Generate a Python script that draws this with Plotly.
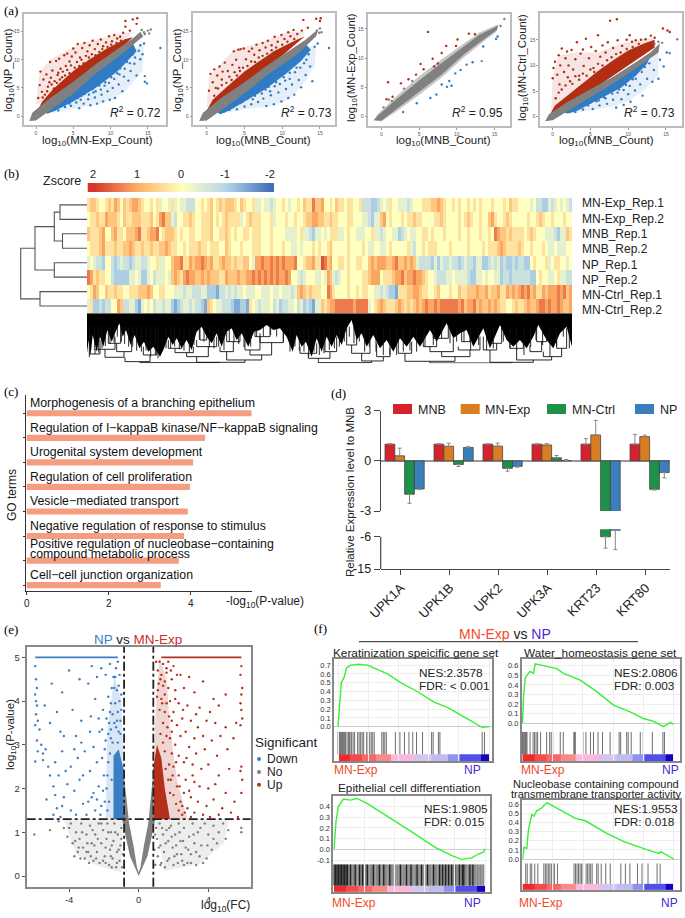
import plotly.graph_objects as go

W, H = 685, 918
SANS = "Liberation Sans"
SERIF = "Liberation Serif"

# ---------- panel (a): scatter clouds ----------
RED, BLUE, GREY = "#B22D12", "#2F7CC4", "#808080"

a1_grey_band = [(-.9,-.9),(-.5,.6),(2,3.3),(5,6.1),(8,9.2),(11,11.9),(13,13.8),(14,15),(14.4,14.2),(12,11.5),(8,7.5),(5,4),(2,1.1),(0,-.8)]
a1_red_band = [(.2,1),(.8,2.5),(2.3,4.8),(5,8),(7,9.9),(9.5,12),(12,13.7),(13,14),(11,11.5),(5,5),(.5,.5)]
a1_blue_band = [(1.5,.4),(2.5,.9),(5,2.6),(8,5),(11,8),(13.5,11.5),(13,13),(5,5),(1,1)]
a1_red_haze = [(0,2),(.5,7.9),(1.9,10),(5.9,12.9),(10.4,14.4),(13,15),(5,5)]
a1_blue_haze = [(2,.4),(5,1.3),(8,2),(10.5,3),(12,4.5),(14.3,8),(14.5,13),(5,5)]
a1_red = [(.3,3.2),(.5,5.5),(.6,7.9),(.8,4.3),(1,6.5),(1.2,3.8),(1.4,7.4),(1.6,5.2),(1.9,9.6),(2,6.8),(2.2,8.1),(2.4,4.9),(2.7,9.8),(2.9,7.3),(3.1,10.2),(3.3,8.4),(3.5,6.9),(3.8,10.8),(4,8.9),(4.2,11.1),(4.5,9.7),(4.8,10.6),(5,12),(5.3,11.3),(5.6,12.8),(5.9,10.4),(6.2,12.1),(6.5,13),(6.9,11.5),(7.2,12.6),(7.6,13.4),(7.9,11.9),(8.3,12.8),(8.7,13.6),(9,12.4),(9.4,13.1),(9.8,14.2),(10.2,13.3),(10.5,14.4),(10.9,13.8),(11.3,14.1),(11.7,14.8),(12,15.9),(12,16.9),(13,17.2),(13.6,17.4),(13.5,16.4),(12.6,15.2),(.9,3.3),(1.5,4.4),(1.8,6),(2.1,5.6),(2.5,6.2),(2.8,5.9),(3,7.7),(3.2,6.5),(3.6,7.9),(3.9,7.2),(4.2,8.2),(4.5,7.6),(4.7,9),(5.2,8.6),(5.5,9.6),(5.8,8.9),(6.1,10),(6.4,9.4),(6.7,10.7),(7.1,10.4),(7.5,11),(8,10.8),(8.5,11.4),(8.9,11.9),(9.6,12.3),(10.1,12.7),(10.8,13),(11.4,13.4)]
a1_blue = [(1.6,.8),(2.4,1.3),(3,1),(3.4,2.1),(3.9,1.6),(4.3,2.6),(4.7,1.8),(5.1,3.3),(5.4,2.4),(5.8,1.4),(6.1,3.6),(6.4,2.2),(6.7,4.4),(7,3),(7.3,1.9),(7.6,4.8),(7.9,3.3),(8.2,2.2),(8.5,5.4),(8.8,3.8),(9,2.6),(9.3,6),(9.6,4.4),(9.9,2.9),(10.1,6.9),(10.3,5),(10.6,3.2),(10.9,7.6),(11.1,5.6),(11.3,8.5),(11.6,4.4),(11.8,7),(12.2,9.6),(12.4,6.3),(12.7,8),(13,11),(13.2,9.3),(13.5,7.2),(14,12.6),(14.3,11),(14.5,12.9),(14.9,5.8),(14.6,6.1),(14.6,7.1),(16.7,12.1),(3,1.6),(3.7,2.5),(4.5,2.2),(5,2.9),(5.6,3.2),(6,2.9),(6.5,3.9),(7.1,3.8),(7.7,4.2),(8,4.4),(8.7,4.7),(9.2,5.4),(9.8,5.9),(10.5,6.6),(11.2,7.4),(11.9,8.4),(12.6,9.4),(13.3,10.4),(13.8,11.6),(14,10.1)]
a1_grey = [(14.5,14.9),(15,15.2),(15.2,14.7),(15.4,15.4),(14.2,15.3),(14.6,14.6)]

a2_grey_band = [(-1,-.9),(-.5,.6),(2,3.3),(5,6),(8,9),(11,11.7),(13,13.5),(14.8,15.5),(14.5,14.2),(12,11),(8,7.3),(5,4),(2,1.1),(0,-.8)]
a2_red_band = [(0,1),(.8,2.9),(2.5,5),(5,7.9),(7,9.8),(9,11.6),(12,13.6),(13,14.2),(5,5),(.5,.5)]
a2_blue_band = [(1.8,.3),(3,1),(5.2,2.7),(8,5),(10.5,7.5),(12.5,9.8),(13.8,11.8),(13,13),(5,5),(1,1)]
a2_red_haze = [(0,1.5),(.3,7),(1.7,9),(3.6,11.8),(7,13),(10.8,15),(13,15),(5,5)]
a2_blue_haze = [(2,.4),(5,1.2),(8,1.6),(11,3),(13,6),(14.3,9),(14.5,13),(5,5)]
a2_red = [(.3,4.5),(.5,7.5),(.8,6),(1,8.3),(1.2,5),(1.4,7.2),(1.7,8.8),(2,6.5),(2.1,7.9),(2.4,9.5),(2.8,8),(3.4,9.1),(3.6,11.5),(3.9,10),(4.2,11.8),(4.3,8.6),(4.5,11.9),(4.9,12),(5.2,10.1),(5.6,11.5),(6,12),(6.3,10.9),(6.6,12.7),(7,11.7),(7.4,13),(7.8,12.2),(8.1,13.4),(8.6,12.6),(9,14.1),(9.4,13.2),(9.9,14.4),(10.3,13.7),(10.8,14.9),(11.1,14.2),(11.5,15.3),(12,14.6),(12.6,15.2),(12.8,17.1),(14.5,17.3),(15,16.9),(15.1,17.4),(13.4,15.7),(1,3.6),(1.5,4.9),(2,5.5),(2.6,5.9),(3,7),(3.3,6.4),(3.7,7.8),(4,7.2),(4.4,8),(4.8,8.6),(5.4,8.9),(5.9,9.7),(6.4,9.6),(6.9,10.4),(7.4,10.7),(8,11.1),(8.6,11.7),(9.2,12.2),(10,12.7),(10.7,13.2),(11.6,13.7)]
a2_blue = [(2.3,.8),(3,1.1),(3.5,1.6),(4,1.2),(4.5,2.3),(5,1.7),(5.4,3.1),(5.9,2.1),(6.4,3.6),(6.8,2.5),(7,4.6),(7.5,3.1),(7.9,1.8),(8.2,5.2),(8.5,3.7),(8.9,2.1),(9.2,6),(9.5,4.2),(9.9,2.6),(10.2,6.9),(10.5,4.8),(10.8,3.2),(11,7.7),(11.3,5.6),(11.6,3.8),(11.9,8.6),(12.2,6.4),(12.5,5.1),(12.9,9.4),(13.1,7.3),(13.5,11),(13.7,8.8),(14,6.2),(14.3,12.3),(14.7,12.9),(16.2,12.1),(3.2,1.5),(3.9,2.2),(4.8,2.6),(5.6,3.4),(6.1,3),(6.7,4.1),(7.3,4),(7.8,4.7),(8.4,4.4),(9,5.3),(9.7,5.7),(10.4,6.3),(11,6.6),(11.7,7.8),(12.4,8.6),(13.2,10)]
a2_grey = [(14.6,15.2),(15,15.6),(14.9,14.8),(15.2,14.9)]

a3_grey_band = [(-1,-.6),(-.5,.1),(2,3),(5,6.2),(8,9.2),(11,12),(13,14),(15.5,15.6),(15.3,14.8),(13,12.7),(11,10.7),(8,7.2),(5,4.2),(2,1.3),(0,-.7)]
a3_grey_haze = [(-1,-.6),(-.5,.4),(2,3.5),(5,6.9),(8,9.8),(11,12.6),(13,14.4),(15.5,15.8),(15.3,14.6),(13,12.3),(11,10.2),(8,6.7),(5,3.7),(2,.9),(0,-.8)]
a3_red = [(.7,3),(.9,5.9),(1.5,3.4),(2.6,5.7),(3.6,6.4),(4.6,7.2),(5.2,9),(5.6,8.1),(6.2,14.5),(6.8,9.9),(7,8.6),(7.5,9.1),(8,10.9),(8.6,12.1),(9.9,12.1),(10.1,13.2),(11.6,14.2),(12.4,14.1)]
a3_blue = [(2.9,.8),(4.7,2.3),(6.5,3.2),(7.3,3.8),(8,5.5),(8.7,5.1),(9,6.1),(9.3,5.3),(9.8,7.4),(10.5,8),(11.3,8.9),(12.1,9.3),(13.5,12),(15.2,13.3),(15.4,13.7)]
a3_grey = [(13.3,9.5),(16.3,16.7),(15.8,15.5),(.3,1.6),(1,2.9),(1.4,2.7),(3,4.8),(4.1,6.1)]

a4_grey_band = [(-1,-.9),(-.5,.5),(2,2.9),(5,5.3),(8,7.8),(11,10.6),(13,12.6),(14.2,14.3),(14,12.5),(12,10.4),(8,6.4),(5,3.8),(2,1.2),(0,-.7)]
a4_red_band = [(-.3,.6),(.3,2.2),(2,4.2),(4,6.6),(6,8.9),(8,11),(10,12.9),(12,14.2),(13.5,15),(13.5,13.5),(5,5),(.5,.5)]
a4_blue_band = [(2,.6),(3.2,1.1),(5,2.5),(7,4),(9,5.6),(11,8),(12.5,10.3),(13,12),(5,5),(1,1)]
a4_red_haze = [(-.2,1),(0,8),(.8,12),(3.2,12.5),(6,12.5),(9,14.2),(12,15.2),(13.5,15.3),(5,5)]
a4_blue_haze = [(2,.5),(5,1.3),(8,2),(10,3),(12,5),(14,8),(14,12.5),(5,5)]
a4_red = [(0,7.5),(.1,9.5),(.3,10.7),(.6,8.2),(.8,12),(.9,6.3),(1,10),(1.2,13.3),(1.5,8.7),(1.7,11.4),(1.9,12.7),(2.1,10),(2.3,6.9),(2.5,13),(2.7,9.2),(3,11.2),(3.2,14.5),(3.5,8),(3.7,12.3),(4,13.1),(4.1,9.9),(4.4,15.2),(4.8,11.4),(5.1,13.6),(5.4,9.5),(5.7,12.8),(6,15.9),(6.3,11.7),(6.6,13.9),(7,12.5),(7.3,14.5),(7.6,18.7),(8.5,19),(8,13.4),(8.6,14.9),(9.2,13.8),(9.8,15),(10.2,15.9),(10.5,14.6),(11,14.9),(11.7,15),(12.3,15.1),(13.5,15.4),(14.6,17.2),(15.2,16.8),(15.5,16.5),(13,15.8),(.4,3.6),(.8,4.7),(1.2,5.3),(1.7,6.1),(2,7.7),(2.6,6.4),(3,7.9),(3.5,7.2),(4,8.4),(4.5,8),(5,9.2),(5.5,8.7),(6,10.3),(6.6,10),(7.2,11),(7.8,11.6),(8.4,12.2),(9,12.5),(9.8,13.2),(10.6,13.6),(11.4,14.2)]
a4_blue = [(3,.9),(4,1.4),(4.7,2.2),(5.3,1.5),(5.8,3),(6.2,2.2),(6.8,3.8),(7.2,2.5),(7.6,4.9),(8,3.3),(8.4,1.8),(8.8,5.3),(9.1,3.4),(9.4,2.3),(9.7,6.2),(10,4.4),(10.3,2.9),(10.6,7.3),(10.9,5.1),(11.2,8.7),(11.6,6.3),(11.9,4.1),(12.2,9.7),(12.5,7.4),(12.8,10.4),(13.2,6.8),(13.4,9.1),(14,7.4),(14.2,11.1),(15.1,12.5),(15.5,12.4),(14.7,9.8),(3.7,1.9),(5,2.7),(6.1,3.2),(7,3.6),(7.9,4.5),(8.6,4.7),(9.4,5.2),(10.2,6),(11,7.4),(11.8,8.7)]
a4_grey = [(13.5,14.2),(14,14.6),(14.5,14.4),(16.5,15.1)]

# ---------- panel (b): heat map digits, 4 = 0 and each step is 0.36 ----------
samples = ["MN-Exp_Rep.1","MN-Exp_Rep.2","MNB_Rep.1","MNB_Rep.2","NP_Rep.1","NP_Rep.2","MN-Ctrl_Rep.1","MN-Ctrl_Rep.2"]
heat_rows = [
 "56654456576465677654"+"45453443534332224454"+"56456566654654453343"+"32344543445465586674"+"454655"+"45544522211234354433"+"32344455566765445454"+"45454544454445465544"+"4434221132343432",
 "45565576665465566655"+"56457866324455654455"+"56454565555345655544"+"45344454454456677665"+"565544"+"45544433213367454445"+"45565544445565444454"+"56544544675445654444"+"4544565445444544",
 "65556744675546667855"+"67784566654544554455"+"56445565454455455544"+"45444433334533213343"+"455533"+"45443334453323443312"+"34334455454445444454"+"45444544548766565555"+"4565444333213365",
 "45556755565566765565"+"56556676554454555655"+"45554465444544455544"+"45444544334344454544"+"564444"+"45444454334433454444"+"45324454555444454444"+"45444454555676555565"+"4454445433433344",
 "34322144212322123322"+"34453344677855767787"+"67556766565566437787"+"78787877784456675598"+"674455"+"45445544676777667866"+"76763222213132232212"+"32213311232312112122"+"1145444534554434",
 "87565544211111334311"+"34233343676578776676"+"76665576667667787878"+"78787787443234443343"+"763234"+"45444455677745556778"+"67787765443222334333"+"32113343443312212222"+"2211454433453322",
 "45764465565544555666"+"76445544433323322233"+"11102232323343334433"+"34334333236765655544"+"875444"+"45445455443323211055"+"56677655445644454465"+"56667667566755767678"+"7867557677787867",
 "35112122447622331034"+"34233233101233232210"+"65433222100110543233"+"34231223342312103365"+"677888"+"88878888345676555676"+"56567678778788888878"+"67786766767655445655"+"6766788787787667",
]
sample_label_y = [203.3, 219, 234, 249, 265, 280, 295, 310]
zscale_ticks = [2, 1, 0, -1, -2]
sample_tree = [(0,1,27),(2,3,24.5),(8,9,32.7),(4,5,32.7),(10,11,52),(6,7,47),(12,13,66.3)]
gene_profile = [(261,580),(266,540),(272,585),(278,525),(290,575),(300,530),(310,560),(322,510),(335,545),(345,520),(358,490),(368,530),(378,510),(392,555),(404,525),(418,565),(432,545),(445,575),(460,560),(480,590),(490,570),(505,530),(518,555),(530,535),(545,565),(560,540),(575,570),(590,515),(605,500),(620,530),(635,550),(650,520),(665,560),(680,515),(695,505),(710,540),(725,520),(745,560),(762,515),(780,510),(800,495),(820,510),(840,505),(860,530),(878,575),(890,525),(905,560),(918,545),(935,590),(950,535),(965,575),(980,530),(995,560),(1010,525),(1025,555),(1040,505),(1055,480),(1070,540),(1085,520),(1100,560),(1120,525),(1140,565),(1160,540),(1180,575),(1200,535),(1220,560),(1240,530),(1260,560),(1290,510),(1310,545),(1340,490),(1360,535),(1380,520),(1400,510),(1420,560),(1450,505),(1470,565),(1500,495),(1520,540),(1540,560),(1560,540),(1580,565),(1600,530),(1615,495),(1640,540),(1660,565),(1680,520),(1700,500),(1716,560)]
gene_brackets = [(270,300,582,545,540),(285,345,568,582,530),(325,362,550,515,500),(350,395,575,550,530),(315,372,592,568,575),(430,470,585,560,570),(375,450,605,592,585),(505,545,565,540,545),(525,580,578,565,560),(600,620,540,505,530),(590,650,560,540,530),(560,625,590,578,560),(680,720,545,515,520),(660,700,575,560,545),(735,780,570,540,520),(765,810,530,510,500),(780,850,548,530,510),(750,815,585,570,548),(680,785,600,575,585),(590,735,607,590,600),(420,660,608,605,607),(900,950,580,560,550),(975,1010,575,540,530),(925,990,595,580,575),(1040,1070,555,500,530),(1055,1110,580,555,540),(1130,1170,590,550,565),(1085,1150,603,580,590),(955,1115,608,595,603),(1195,1235,580,540,545),(1270,1310,560,520,530),(1300,1345,535,520,495),(1290,1360,575,560,535),(1385,1410,545,515,510),(1375,1440,570,560,530),(1325,1410,590,575,570),(1215,1365,604,580,590),(1470,1505,550,510,500),(1450,1490,570,530,550),(1530,1570,565,545,545),(1610,1640,545,500,525),(1590,1625,575,555,545),(1670,1700,565,530,505),(1630,1685,590,575,565),(1550,1655,600,565,590),(1470,1600,607,570,600),(1290,1535,609,604,607)]
gene_stems = [(268,592),(284,570),(296,578),(306,565),(316,558),(330,552),(342,546),(352,530),(364,545),(374,552),(386,560),(398,560),(410,572),(424,575),(438,572),(452,590),(466,585),(474,595),(498,565),(512,565),(524,560),(538,568),(552,572),(568,578),(582,555),(598,540),(612,545),(628,562),(642,565),(656,560),(672,570),(688,545),(702,545),(716,552),(732,562),(752,560),(770,530),(790,528),(812,525),(830,530),(850,545),(870,575),(885,560),(898,572),(912,575),(926,590),(942,575),(958,585),(972,580),(988,570),(1003,565),(1018,560),(1033,545),(1048,530),(1062,550),(1078,545),(1094,575),(1108,560),(1128,575),(1150,585),(1170,585),(1190,585),(1210,575),(1230,572),(1250,575),(1275,560),(1300,555),(1325,535),(1350,550),(1370,545),(1392,545),(1412,570),(1436,555),(1460,570),(1480,565),(1510,545),(1530,565),(1550,570),(1572,585),(1592,560),(1608,540),(1628,555),(1650,590),(1670,560),(1690,530),(1708,565)]

# ---------- panel (c) ----------
go_terms = [["Morphogenesis of a branching epithelium"],["Regulation of I\u2212kappaB kinase/NF\u2212kappaB signaling"],["Urogenital system development"],["Regulation of cell proliferation"],["Vesicle\u2212mediated transport"],["Negative regulation of response to stimulus"],["Positive regulation of nucleobase\u2212containing","compound metabolic process"],["Cell\u2212cell junction organization"]]
go_values = [5.49, 4.35, 4.06, 3.98, 3.93, 3.84, 3.71, 3.27]

# ---------- panel (d) ----------
genes = ["UPK1A","UPK1B","UPK2","UPK3A","KRT23","KRT80"]
d_groups = ["MNB","MN-Exp","MN-Ctrl","NP"]
d_colors = ["#D5222B","#D97C22","#1D9147","#3A7FBC"]
d_values = [[1,1,1,1,1,1],[.3,.87,.88,.95,1.55,1.45],[-2,-.22,-.45,.18,-6,-1.7],[-1.68,.8,-.33,.02,-4.2,-.7]]
d_err_up = [[.03,.02,.02,.02,.33,.58],[.46,.19,.18,.08,.87,.09],[0,0,0,.14,0,0],[0,.07,0,.06,0,0]]
d_err_dn = [[0,0,0,0,0,0],[0,0,0,0,0,0],[.54,.12,.17,0,3.2,.05],[.04,0,.05,0,5.4,.32]]

# ---------- panel (e) ----------
e_blue = [(-5.95,4.8),(-5.9,4.5),(-5.85,4.3),(-5.95,4.15),(-5.9,4),(-5.85,3.9),(-5.9,3.7),(-5.8,3.55),(-5.95,3.45),(-5.7,3.35),(-5.85,3.1),(-5.6,3),(-5.8,2.85),(-5.5,2.8),(-5.35,2.9),(-5.95,2.62),(-5.5,2.65),(-5.2,2.5),(-5.1,2.3),(-4.9,2.05),(-5.3,1.75),(-4.8,1.85),(-4.7,1.55),(-4.9,1.4),(-4.5,1.35),(-4.4,1.6),(-4.3,1.8),(-4.1,2.1),(-3.9,1.5),(-3.7,1.95),(-3.6,1.4),(-3.4,2.2),(-3.2,1.65),(-3,1.4),(-2.8,2.4),(-2.7,1.8),(-2.5,1.5),(-2.3,2.05),(-2.1,2.7),(-1.95,1.7),(-1.8,2.3),(-5.1,3.5),(-5,4.4),(-4.7,3.75),(-4.5,3.3),(-4.4,2.85),(-4.2,2.4),(-4,4.7),(-3.8,3.8),(-3.6,3.2),(-3.3,3.05),(-3.1,2.85),(-2.9,4.4),(-2.75,3.65),(-2.6,2.95),(-2.5,4.05),(-2.4,4.55),(-2.25,3.3),(-2.15,4.75),(-2.05,3.8),(-1.9,3.1),(-1.9,4.6),(-1.75,4.1),(-1.7,3.5),(-1.65,4.85),(-1.6,3.15),(-1.55,4.3),(-1.5,3.7),(-1.45,4.55),(-1.4,4.3),(-1.35,3.95),(-1.3,4.75),(-1.3,3.4),(-1.25,4.25),(-1.2,3.75),(-1.2,4.9),(-1.15,3.3),(-1.1,4.6),(-1.1,4),(-1.05,3.55),(-1.55,2.2),(-1.7,1.7),(-1.65,2.8),(-1.8,1.5),(-2.2,1.4),(-2.4,2.6),(-3.5,2.7),(-3.9,2.5),(-4.6,2.3),(-1.35,4.55),(-1.15,4.35),(-1,4.15),(-1.4,3.5),(-1,3.8),(-2,2.3),(-2.05,1.95),(-1.85,2),(-1.75,2.6),(-1.95,2.9),(-1.6,3.35),(-1.75,3.25),(-1.85,3.6),(-1.65,3.75),(-1.6,3.95),(-1.25,3.55),(-1.05,3.25),(-1.5,3.05),(-1.2,3.05),(-2.1,3.35),(-2.3,3.6),(-2.6,1.9),(-2.4,1.75),(-2.15,1.6),(-2.9,1.7),(-3.2,2.3),(-3.7,2.9),(-4.3,3.2),(-4.8,2.6),(-2.8,3.3),(-3.3,3.55),(-5.4,3.9),(-4.4,4.2),(-3.4,4.5),(-2.7,4.8)]
e_red = [(5.9,4.8),(5.85,4.6),(5.95,4.3),(5.9,4.15),(5.85,3.95),(5.9,3.8),(5.95,3.6),(5.85,3.45),(5.9,2.5),(5.85,2.4),(5.95,2.2),(5.9,1.9),(1.2,4.9),(1.4,4.85),(1.7,4.9),(2,4.8),(1.1,4.7),(1.3,4.6),(1.6,4.65),(1.9,4.5),(2.4,4.6),(2.9,4.55),(1.15,4.4),(1.4,4.35),(1.7,4.3),(2.1,4.25),(2.6,4.3),(3.2,4.2),(3.7,4.45),(4.3,4.05),(5,4.15),(1.05,4.1),(1.3,4.05),(1.5,4.15),(1.8,4),(2.3,3.95),(2.8,3.9),(3.5,3.85),(4.1,3.75),(4.6,3.9),(5.6,3.5),(1.2,3.8),(1.5,3.75),(1.75,3.65),(2,3.75),(2.5,3.6),(3,3.55),(3.4,3.4),(3.9,3.55),(4.4,3.5),(5,3.4),(5.45,3.15),(1.4,3.5),(1.65,3.4),(1.9,3.3),(2.2,3.45),(2.7,3.3),(3.2,3.15),(3.7,3.2),(4.2,3.1),(4.7,3.2),(1.8,3.15),(2.1,3),(2.4,3.2),(2.9,2.95),(3.3,2.8),(3.8,2.9),(4.5,2.75),(5.1,2.9),(1.9,2.8),(2.3,2.75),(2.6,2.6),(3.1,2.55),(3.6,2.45),(4,2.55),(4.6,2.3),(5.2,2.45),(2,2.5),(2.3,2.3),(2.7,2.2),(3.2,2.15),(3.5,2.05),(4,2),(4.4,2.1),(5,1.9),(5.5,1.7),(2.2,2.05),(2.6,1.9),(3,1.8),(3.4,1.7),(3.9,1.6),(4.3,1.75),(4.8,1.55),(5.3,1.45),(2.4,1.7),(2.8,1.55),(3.2,1.45),(3.7,1.4),(4.1,1.35),(4.6,1.4),(5.7,1.35),(2.5,1.4),(3,1.35),(1.6,3.2),(1.5,2.85),(1.75,2.55),(1.85,2.2),(2,1.85),(2.15,1.65),(2.3,1.5),(1.25,3.25),(1.4,3.05),(1.55,2.45),(1.7,2.2),(1.95,2.3),(1.8,1.9),(2.15,2.6),(2.35,2.05),(2.5,1.6),(1.6,3.95),(1.9,3.55),(1.35,3.95),(1.1,4.25),(1.25,4.5),(1.5,4.45),(1.85,4.7),(2.2,4.6),(2.55,3.8),(2.75,2.7),(3.1,2.3),(2.65,1.45),(2.9,1.95),(3.3,3.7),(2.1,4.05),(1.6,4.75),(1,4.9)]
e_grey_l = [(-6,.95),(-5.1,1.05),(-4.6,1.25),(-4.3,1.1),(-4.1,.9),(-3.9,1.2),(-3.8,.75),(-3.6,1),(-3.5,.55),(-3.4,.85),(-3.3,1.2),(-3.2,.65),(-3.1,.4),(-3,.95),(-2.9,.55),(-2.8,1.15),(-2.7,.75),(-2.6,.35),(-2.5,.95),(-2.4,.55),(-2.3,1.2),(-2.25,.3),(-2.15,.75),(-2.05,1.05),(-1.95,.45),(-1.85,.85),(-1.8,1.2),(-1.7,.25),(-1.65,.6),(-1.6,1),(-1.5,.4),(-1.45,.8),(-1.4,1.2),(-1.3,.2),(-1.25,.55),(-1.2,.95),(-1.1,.35),(-1.05,.7),(-1,1.1),(-.95,.2),(-.9,.5),(-3.7,.45),(-3.35,.4),(-2.85,.3),(-2.55,.7),(-2.05,.35),(-1.55,.2),(-3.65,.8),(-3.25,1),(-2.95,.75),(-2.65,1.05),(-2.35,.85),(-2.15,1.2),(-1.9,.65),(-1.75,1),(-1.55,.7),(-1.35,1),(-1.15,.6),(-1,.85),(-2.45,.4),(-3,.55),(-3.45,.65),(-4,1.1),(-2.75,.45),(-1.9,.3),(-1.25,.3),(-1.6,.45)]
e_grey_r = [(5.9,1.1),(5.9,1),(5.15,1.05),(5,.85),(4.85,1.2),(4.6,1),(4.5,.75),(4.3,1.15),(4.2,.6),(4,.95),(3.9,.4),(3.8,1.2),(3.6,.7),(3.5,.45),(3.4,1),(3.3,.25),(3.2,.75),(3.1,1.2),(3,.5),(2.9,.9),(2.8,.3),(2.7,.65),(2.6,1.1),(2.5,.35),(2.4,.8),(2.3,1.2),(2.2,.5),(2.1,.95),(2,.25),(1.95,.65),(1.85,1.15),(1.75,.4),(1.7,.8),(1.6,1.05),(1.5,.2),(1.45,.55),(1.4,.95),(1.3,.3),(1.25,.7),(1.2,1.2),(1.1,.45),(1.05,.85),(1,1.1),(.95,.25),(.9,.6),(4.3,.85),(3.7,.3),(3.3,.55),(3.95,.7),(3.55,1.1),(3.15,.95),(2.85,.6),(2.55,.8),(2.35,1),(2.15,.7),(1.9,.9),(1.75,1.1),(1.55,.75),(1.35,1.1),(1.15,.65),(.95,.95),(2.45,.5),(2.05,.45),(1.65,.35),(1.25,.25),(3,.3),(2.6,.25),(2.25,.3)]
e_grey_wedge = [(0,0),(-.5,.45),(-.8,1),(-.95,1.3),(-.85,1.3),(-.85,2.3),(-.55,1.2),(-.3,.7),(-.1,.2),(0,.08),(.1,.2),(.3,.7),(.55,1.2),(.85,2.4),(.85,1.3),(.95,1.3),(.8,1),(.5,.45)]
e_grey_haze_l = [(-.9,1.3),(-4.3,1.3),(-3.6,.5),(-2.5,.25),(-1,.08)]
e_grey_haze_r = [(.9,1.3),(5.2,1.3),(4.9,.75),(3.5,.28),(1.5,.12)]
e_blue_band = [(-.85,1.3),(-1.45,1.3),(-1.45,2.75),(-1.15,2.9),(-.85,2.4)]
e_blue_haze = [(-.85,1.3),(-1.9,1.3),(-1.8,3.3),(-1.4,4.6),(-1,4),(-.85,2.4)]
e_red_band = [(.85,1.3),(1.8,1.3),(1.5,2),(1.3,2.7),(1.05,3),(.85,2.5)]
e_red_haze = [(.85,1.3),(2.8,1.3),(2.2,2.2),(1.8,3.4),(1.6,4.5),(1.2,5),(1,4),(.85,2.6)]
e_caps = [(-5.95,-1.2),(1.3,5.9)]
e_cut_p, e_cut_fc = 1.3, .84

# ---------- panel (f): enrichment curves, rank in % and enrichment score ----------
f_titles = [["Keratinization speicific gene set"],["Water_homeostasis gene set"],["Epithelial cell differentiation"],["Nucleobase containing compound","transmembrane transporter activity"]]
f_nes = ["NES:2.3578","NES:2.0806","NES:1.9805","NES:1.9553"]
f_fdr = ["FDR: < 0.001","FDR: 0.003","FDR: 0.015","FDR: 0.018"]
f_rank = [
 [0,.7,1.3,2.2,4,5.7,8.4,14,19.5,25,32.8,41.5,52.5,63.6,72.4,85.7,95.6,97.8,100],
 [0,.7,1.8,2.9,5,7.3,8.4,14,22.7,27.1,33.8,38.2,49.2,60.3,71.3,80.1,86.8,93.4,97.8,100],
 [0,1.3,2.9,6.3,10.8,15.2,21.9,37.6,53.3,66.7,78,84.5,91.2,95.7,99.1,100],
 [0,.9,2.7,3.8,6,7.5,9.3,12.6,16,22.6,34.9,41.5,56,67.1,75.9,82.6,90.3,91.4,100],
]
f_es = [
 [0,.16,.39,.5,.56,.67,.7,.71,.7,.66,.6,.5,.4,.28,.22,.09,-.01,0,0],
 [0,.28,.47,.5,.54,.52,.62,.6,.57,.52,.48,.45,.33,.19,.12,.05,.02,-.035,.01,-.01],
 [0,.256,.4,.47,.46,.475,.43,.29,.147,.02,-.06,-.094,-.08,-.044,-.025,.005],
 [0,.13,.117,.32,.49,.47,.53,.56,.62,.557,.447,.42,.28,.19,.135,.1,.06,.08,0],
]
f_hits = [
 [0,.4,.8,1.2,1.6,2,2.5,3,3.5,4,4.5,5,6,7,7.5,8,9,10,11,13,14,15,16,17,19,20,21,22,23,24,29,30,31,32,38,41,44,47,49.5,52,56,62,63,66.5,67.5,95.5,97],
 [0,.5,1,1.5,2,2.5,3,5,7,8,9,10,12,16,18,19,20,25,27,34,34.5,35,40,42,45,47,50,53,58,64,65,69,70,72,78,80,86,93,94],
 [0,1,2,3,4,5,6,7,8,9,11,14,17,19,22,26,30,33,37,44,48,51,55,58,62,66,70,72,74,76,78,80,83,85,86,90,92],
 [2,3,5,6,8,10,14,15,16,17,18,19,20,21,23,34,35,36,37,38,39,40,42,43,44,45,46,49,50,52,55,58,65,68,71,76,79,83,89,91],
]
f3_light_hits = [10,12,13,15,16,18,20,21,23,24,25,27,28,29,31,32,34,35,36,38,39,40,41,42,43,45,46,47,49,50,52,53,54,56,57,59,60,61,63,64,65,67,68,69,71,73,75,77,79,81,82,84,87,88,89,91,93,94,95,96,97,98,99]
f_stripe_edges = [0,8,16,25,35,50,62,73,81,95,100]
f_stripe_levels = [0,1,2,3,4,5,6,7,8,9]
f_stripe_colors = ["#EE2A2A","#F44A4A","#F76868","#F98A8A","#F9B8DC","#D5C5EE","#C0BCF0","#9090F0","#5050E8","#1800C0"]

# ---------- figure helpers ----------
fig = go.Figure()
layout = {}
annotations, shapes = [], []
axis_count = 0


def new_axes(box, xrange, yrange, xopts=None, yopts=None):
    global axis_count
    axis_count += 1
    n = axis_count
    x0, y0, x1, y1 = box
    base = dict(showgrid=False, zeroline=False, showline=False, ticks="", showticklabels=False, automargin=False)
    xa = {**base, "domain": [x0 / W, x1 / W], "range": list(xrange), "anchor": f"y{n}", **(xopts or {})}
    ya = {**base, "domain": [1 - y1 / H, 1 - y0 / H], "range": list(yrange), "anchor": f"x{n}", **(yopts or {})}
    layout[f"xaxis{n}"] = xa
    layout[f"yaxis{n}"] = ya
    return f"x{n}", f"y{n}"


def calib_x(box, px, val, ppu):
    return ((box[0] - px) / ppu + val, (box[2] - px) / ppu + val)


def calib_y(box, px, val, ppu):
    return ((px - box[3]) / ppu + val, (px - box[1]) / ppu + val)


def text(x, y, s, size=12, color="black", anchor="center", font=SANS, angle=0):
    annotations.append(dict(x=x / W, y=1 - y / H, xref="paper", yref="paper", text=s, showarrow=False,
                            xanchor=anchor, yanchor="middle", textangle=angle,
                            font=dict(family=font, size=size, color=color)))


def xs(pairs):
    return [p[0] for p in pairs]


def ys(pairs):
    return [p[1] for p in pairs]


def polygon(pairs, color, ax, opacity=1.0):
    fig.add_trace(go.Scatter(x=xs(pairs), y=ys(pairs), mode="lines", fill="toself", fillcolor=color,
                             line=dict(width=0, color=color), opacity=opacity, xaxis=ax[0], yaxis=ax[1], hoverinfo="skip"))


def dots(pairs, color, ax, size=2.4):
    fig.add_trace(go.Scatter(x=xs(pairs), y=ys(pairs), mode="markers", marker=dict(size=size, color=color, line=dict(width=0)),
                             xaxis=ax[0], yaxis=ax[1]))


# ---------- panel labels ----------
for lx, ly, lab in [(2,10,"(a)"),(2,173,"(b)"),(2,392,"(c)"),(329,393,"(d)"),(2,629,"(e)"),(312,628,"(f)")]:
    text(lx, ly, lab, 13, anchor="left", font=SERIF)

# ---------- (a) ----------
FRAME = "#BDBDBD"
scatter_panels = [
 dict(box=(24.3,14,165.7,125), x0=36, xp=7.45, y0=116, yp=5.62, band=a1_grey_band, rb=a1_red_band, bb=a1_blue_band, rh=a1_red_haze, bh=a1_blue_haze, r=a1_red, b=a1_blue, g=a1_grey,
      xt="log<sub>10</sub>(MN-Exp_Count)", yt="log<sub>10</sub>(NP_Count)", xc=98, yx=9, yc=70, r2="0.72", rx=135),
 dict(box=(193.3,13.3,335,125), x0=206.7, xp=7.55, y0=116, yp=5.62, band=a2_grey_band, rb=a2_red_band, bb=a2_blue_band, rh=a2_red_haze, bh=a2_blue_haze, r=a2_red, b=a2_blue, g=a2_grey,
      xt="log<sub>10</sub>(MNB_Count)", yt="log<sub>10</sub>(NP_Count)", xc=263, yx=178, yc=70, r2="0.73", rx=306),
 dict(box=(368.3,14,510,126), x0=381.3, xp=7.55, y0=116.7, yp=5.85, band=a3_grey_band, rb=None, bb=None, rh=None, bh=None, r=a3_red, b=a3_blue, g=a3_grey,
      xt="log<sub>10</sub>(MNB_Count)", yt="log<sub>10</sub>(MN-Exp_Count)", xc=443, yx=352, yc=68, r2="0.95", rx=477),
 dict(box=(540,13.3,682.3,126), x0=552.7, xp=7.55, y0=116.7, yp=5.13, band=a4_grey_band, rb=a4_red_band, bb=a4_blue_band, rh=a4_red_haze, bh=a4_blue_haze, r=a4_red, b=a4_blue, g=a4_grey,
      xt="log<sub>10</sub>(MNB_Count)", yt="log<sub>10</sub>(MN-Ctrl_Count)", xc=606.7, yx=523, yc=68, r2="0.73", rx=649),
]
tick_small = dict(showticklabels=True, ticks="outside", ticklen=2, tickwidth=.6, tickcolor="#999", tickfont=dict(family=SANS, size=5, color="#555"),
                  tickvals=[0,5,10,15], ticktext=["0","5","10","15"], showline=True, mirror=True, linecolor=FRAME, linewidth=1.5)
for p in scatter_panels:
    ax = new_axes(p["box"], calib_x(p["box"], p["x0"], 0, p["xp"]), calib_y(p["box"], p["y0"], 0, p["yp"]), tick_small, tick_small)
    if p["rb"]:
        polygon(p["rh"], RED, ax, .12)
        polygon(p["bh"], BLUE, ax, .12)
        polygon(p["rb"], RED, ax)
        polygon(p["bb"], BLUE, ax)
    else:
        polygon(a3_grey_haze, GREY, ax, .45)
    dots(p["r"], RED, ax)
    dots(p["b"], BLUE, ax)
    polygon(p["band"], GREY, ax)
    dots(p["g"], GREY, ax)
    text(p["xc"], 141, p["xt"], 11.5, "#222")
    text(p["yx"], p["yc"], p["yt"], 11.3, "#222", angle=-90)
    text(p["rx"], 112, f"<i>R</i><sup>2</sup> = {p['r2']}", 12, "#222")

# ---------- (b) ----------
n_cols = max(len(r) for r in heat_rows)
heat_z = [[(int(c) - 4) * .36 for c in row.ljust(n_cols, "4")] for row in heat_rows]
HEAT_SCALE = [[0,"#3F6FB5"],[.25,"#B5D6E8"],[.5,"#FFFFC0"],[.75,"#FDB066"],[1,"#D7352A"]]
hbox = (87, 197.7, 572.3, 313.3)
ax = new_axes(hbox, (-.5, n_cols - .5), (len(samples) - .5, -.5))
fig.add_trace(go.Heatmap(z=heat_z, zmin=-2, zmax=2, colorscale=HEAT_SCALE, showscale=False, xaxis=ax[0], yaxis=ax[1]))
for s, ly in zip(samples, sample_label_y):
    text(580, ly, s, 12, "#222", anchor="left")

cbox = (87.5, 183, 274, 192)
cax = new_axes(cbox, (2.13, -2.09), (-.5, .5))
fig.add_trace(go.Heatmap(x=zscale_ticks, y=[-.5, .5], z=[zscale_ticks, zscale_ticks], zmin=-2, zmax=2, colorscale=HEAT_SCALE,
                         zsmooth="best", showscale=False, xaxis=cax[0], yaxis=cax[1]))
for t, tx in zip(zscale_ticks, [93, 137, 181, 225, 270]):
    text(tx, 174, str(t), 11, "#222")
text(62, 181.5, "Zscore", 12.5, "#222")

tbox = (20, 197.7, 87, 313.3)
tax = new_axes(tbox, (67, 0), (len(samples) - .5, -.5))
node_pos = {i: (i, 0) for i in range(8)}
tx_line, ty_line = [], []
for k, (a, b, h) in enumerate(sample_tree):
    ya_, ha = node_pos[a]
    yb_, hb = node_pos[b]
    tx_line += [ha, h, h, hb, None]
    ty_line += [ya_, ya_, yb_, yb_, None]
    node_pos[8 + k] = ((ya_ + yb_) / 2, h)
fig.add_trace(go.Scatter(x=tx_line, y=ty_line, mode="lines", line=dict(color="#555", width=1.1), xaxis=tax[0], yaxis=tax[1]))

gbox = (87, 313.3, 572.3, 363.3)
gax = new_axes(gbox, (261, 1717), (610, 460))
prof = [(261, 460)] + gene_profile + [(1716, 460)]
polygon(prof, "black", gax)
bx, by = [], []
for l, r, d, dl, dr in gene_brackets:
    bx += [l, l, r, r, None]
    by += [dl, d, d, dr, None]
for sx_, sy_ in gene_stems:
    bx += [sx_, sx_, None]
    by += [500, sy_, None]
fig.add_trace(go.Scatter(x=bx, y=by, mode="lines", line=dict(color="#111", width=.9), xaxis=gax[0], yaxis=gax[1]))

# ---------- (c) ----------
cbox2 = (26, 395, 251.7, 591)
c_ax = new_axes(cbox2, calib_x(cbox2, 26.7, 0, 41), (7.24, -.745),
    dict(showline=True, linecolor="#333", linewidth=1.2, ticks="outside", ticklen=3, tickcolor="#333", showticklabels=True, tickvals=[0,2,4],
         tickfont=dict(family=SANS, size=10, color="#222")),
    dict(showline=True, linecolor="#333", linewidth=1.2, ticks="outside", ticklen=2, tickcolor="#333", tickvals=list(range(len(go_terms)))))
fig.add_trace(go.Bar(x=go_values, y=list(range(len(go_values))), orientation="h", width=.25, marker=dict(color="#F69C80", line=dict(width=0)),
                     xaxis=c_ax[0], yaxis=c_ax[1]))
for i, lines in enumerate(go_terms):
    shifts = [10] if len(lines) == 1 else [17, 7]
    for line, sh in zip(lines, shifts):
        annotations.append(dict(x=0, y=i, xref=c_ax[0], yref=c_ax[1], text=line, showarrow=False, xanchor="left", yanchor="middle",
                                xshift=1, yshift=sh, font=dict(family=SANS, size=12.3, color="#111")))
text(12, 495, "GO terms", 12, "#222", angle=-90)
text(265, 602, "-log<sub>10</sub>(P-value)", 12, "#222")

# ---------- (d) ----------
d_xrange = (-.408, 5.496)
dtop = (380.7, 410.7, 670, 511)
dlow = (380.7, 529.3, 670, 569)
d_font = dict(family=SANS, size=12.5, color="#222")
up = new_axes(dtop, d_xrange, (-3, 3),
    dict(type="category", categoryorder="array", categoryarray=genes, zeroline=False),
    dict(showline=True, linecolor="#444", linewidth=1.2, ticks="outside", ticklen=6, tickcolor="#444", showticklabels=True,
         tickvals=[3,0,-3], ticktext=["3","0","-3"], tickfont=d_font, zeroline=True, zerolinecolor="#999", zerolinewidth=2))
lo = new_axes(dlow, d_xrange, (-15, -3.94),
    dict(type="category", categoryorder="array", categoryarray=genes, showline=True, linecolor="#444", linewidth=1.2, ticks="outside", ticklen=5,
         tickcolor="#444", showticklabels=True, tickangle=-45, tickfont=dict(family=SANS, size=13, color="#222")),
    dict(ticks="outside", ticklen=6, tickcolor="#444", showticklabels=True, tickvals=[-6,-15], ticktext=["-6","-15"], tickfont=d_font))
for g in range(4):
    for a_ in (up, lo):
        fig.add_trace(go.Bar(x=genes, y=d_values[g], width=.2, offset=-.32 + .2 * g,
                             marker=dict(color=d_colors[g], line=dict(color="#444", width=.8)),
                             error_y=dict(type="data", symmetric=False, array=d_err_up[g], arrayminus=d_err_dn[g], color="#888", thickness=1, width=2),
                             xaxis=a_[0], yaxis=a_[1]))
shapes.append(dict(type="line", xref=f"{lo[0]} domain", yref=lo[1], x0=0, x1=0, y0=-6, y1=-15, line=dict(color="#444", width=1.2)))
text(350, 492, "Relative Expression level to MNB", 11.5, "#222", angle=-90)
for name, col, sx in zip(d_groups, d_colors, [393, 460.7, 547, 635]):
    shapes.append(dict(type="rect", xref="paper", yref="paper", x0=sx / W, x1=(sx + 19) / W, y0=1 - 414 / H, y1=1 - 404 / H,
                       fillcolor=col, line=dict(width=0)))
    text(sx + 22.5, 409.5, name, 12.5, "#222", anchor="left")

# ---------- (e) ----------
ebox = (26.7, 646.7, 250.7, 886.7)
EF = "#888888"
e_ax = new_axes(ebox, calib_x(ebox, 138.7, 0, 17.4), calib_y(ebox, 876, 0, 43.73),
    dict(showline=True, mirror=True, linecolor=EF, linewidth=2, ticks="outside", ticklen=3, tickcolor="#555", showticklabels=True,
         tickvals=[-4,0,4], ticktext=["-4","0","4"], tickfont=dict(family=SANS, size=9.5, color="#333")),
    dict(showline=True, mirror=True, linecolor=EF, linewidth=2, ticks="outside", ticklen=3, tickcolor="#555", showticklabels=True,
         tickvals=[0,1,2,3,4,5], tickfont=dict(family=SANS, size=9.5, color="#333")))
E_RED, E_BLUE = "#B5301C", "#3A7FC6"
polygon(e_grey_haze_l, GREY, e_ax, .14)
polygon(e_grey_haze_r, GREY, e_ax, .14)
polygon(e_blue_haze, E_BLUE, e_ax, .2)
polygon(e_red_haze, E_RED, e_ax, .2)
polygon(e_blue_band, E_BLUE, e_ax)
polygon(e_red_band, E_RED, e_ax)
dots(e_grey_l, GREY, e_ax)
dots(e_grey_r, GREY, e_ax)
dots(e_blue, E_BLUE, e_ax)
dots(e_red, E_RED, e_ax)
polygon(e_grey_wedge, GREY, e_ax)
fig.add_trace(go.Scatter(x=list(e_caps[0]), y=[5, 5], mode="lines", line=dict(color=E_BLUE, width=1.6), xaxis=e_ax[0], yaxis=e_ax[1]))
fig.add_trace(go.Scatter(x=list(e_caps[1]), y=[5, 5], mode="lines", line=dict(color=E_RED, width=1.6), xaxis=e_ax[0], yaxis=e_ax[1]))
for v in (-e_cut_fc, e_cut_fc):
    shapes.append(dict(type="line", xref=e_ax[0], yref=f"{e_ax[1]} domain", x0=v, x1=v, y0=0, y1=1, line=dict(color="#222", width=1.8, dash="dashdot")))
shapes.append(dict(type="line", xref=f"{e_ax[0]} domain", yref=e_ax[1], x0=0, x1=1, y0=e_cut_p, y1=e_cut_p, line=dict(color="#222", width=1.8, dash="dashdot")))
text(138, 639, f"<span style='color:{E_BLUE}'>NP</span> vs <span style='color:#C9302A'>MN-Exp</span>", 13.5, "#222")
text(11, 735, "log<sub>10</sub>(P-value)", 11.5, "#222", angle=-90)
text(225.7, 906, "log<sub>10</sub>(FC)", 12, "#222")
text(253, 742.7, "Significant", 13.5, "#222", anchor="left")
for lab, col, ly in [("Down", E_BLUE, 759), ("No", GREY, 772), ("Up", E_RED, 784.7)]:
    shapes.append(dict(type="circle", xref="paper", yref="paper", x0=257 / W, x1=261 / W, y0=1 - (ly + 2) / H, y1=1 - (ly - 2) / H,
                       fillcolor=col, line=dict(width=0)))
    text(265, ly, lab, 12, "#222", anchor="left")

# ---------- (f) ----------
EXP_RED, NP_BLUE = "#F24A2A", "#4A28D0"
text(505, 634, f"<span style='color:{EXP_RED}'>MN-Exp</span> vs <span style='color:{NP_BLUE}'>NP</span>", 14, "#222")
shapes.append(dict(type="line", xref="paper", yref="paper", x0=359 / W, x1=638 / W, y0=1 - 641.7 / H, y1=1 - 641.7 / H, line=dict(color="#222", width=1)))
f_panels = [
 dict(box=(334,659.3,491.7,761), strip=(731.7,761), rank0=338, zero=726.7, p=88, ticks=[0,.1,.2,.3,.4,.5,.6,.7], tc=[416], ty=[652.7], np=(356,473), ly=770, nx=417, ny=(672.7,686), ts=11.8),
 dict(box=(521.7,659.3,680,761), strip=(731.7,761), rank0=522.5, zero=723.3, p=96, ticks=[0,.1,.2,.3,.4,.5,.6], tc=[600], ty=[652.7], np=(543,670), ly=770, nx=612, ny=(672.7,686), ts=11.8),
 dict(box=(333.3,795.7,490,892.3), strip=(864.3,892.3), rank0=334, zero=849.3, p=107, ticks=[-.1,0,.1,.2,.3,.4], tc=[409], ty=[788], np=(354,472.7), ly=903, nx=422, ny=(809,821.7), ts=11.8),
 dict(box=(522.3,800,680,890), strip=(863.3,890), rank0=522.7, zero=859, p=91, ticks=[0,.1,.2,.3,.4,.5,.6], tc=[596], ty=[784,794], np=(541,669), ly=903, nx=612, ny=(809,821.7), ts=11),
]
stripe_scale = [[i / 9, c] for i, c in enumerate(f_stripe_colors)]
for i, p in enumerate(f_panels):
    b = p["box"]
    strip_box = (b[0], p["strip"][0], b[2], p["strip"][1])
    xr = calib_x(b, p["rank0"], 0, 1.51)
    s_ax = new_axes(strip_box, xr, (0, 1))
    fig.add_trace(go.Heatmap(x=f_stripe_edges, y=[0, .23], z=[f_stripe_levels], zmin=0, zmax=9, colorscale=stripe_scale, showscale=False,
                             xaxis=s_ax[0], yaxis=s_ax[1]))
    if i == 2:
        hx, hy = [], []
        for r in f3_light_hits:
            hx += [r, r, None]
            hy += [.23, 1, None]
        fig.add_trace(go.Scatter(x=hx, y=hy, mode="lines", line=dict(color="#888", width=1.6), xaxis=s_ax[0], yaxis=s_ax[1]))
    hx, hy = [], []
    for r in f_hits[i]:
        hx += [r, r, None]
        hy += [.23, 1, None]
    fig.add_trace(go.Scatter(x=hx, y=hy, mode="lines", line=dict(color="#222", width=1.6 if i == 2 else 1), opacity=1 if i == 2 else .65,
                             xaxis=s_ax[0], yaxis=s_ax[1]))
    f_ax = new_axes(b, xr, calib_y(b, p["zero"], 0, p["p"]),
        dict(showline=True, mirror=True, linecolor="#888", linewidth=1.6, showgrid=True, gridcolor="#EEEEEE", dtick=20, tick0=0),
        dict(showline=True, mirror=True, linecolor="#888", linewidth=1.6, showgrid=True, gridcolor="#EEEEEE", showticklabels=True,
             tickvals=p["ticks"], ticktext=[f"{t:.1f}" for t in p["ticks"]], tickfont=dict(family=SANS, size=7.5, color="#333"),
             zeroline=True, zerolinecolor="#CCCCCC", zerolinewidth=1))
    fig.add_trace(go.Scatter(x=f_rank[i], y=f_es[i], mode="lines", line=dict(color="#35F035", width=1.4), xaxis=f_ax[0], yaxis=f_ax[1]))
    for line, tc, ty in zip(f_titles[i], p["tc"] * 2, p["ty"]):
        text(tc, ty, line, p["ts"], "#222")
    text(p["np"][0], p["ly"], "MN-Exp", 12, EXP_RED)
    text(p["np"][1], p["ly"], "NP", 12, NP_BLUE)
    text(p["nx"], p["ny"][0], f_nes[i], 11.8, "#222", anchor="left")
    text(p["nx"], p["ny"][1], f_fdr[i], 11.8, "#222", anchor="left")

fig.update_layout(width=W, height=H, autosize=False, margin=dict(l=0, r=0, t=0, b=0, pad=0), showlegend=False,
                  paper_bgcolor="white", plot_bgcolor="rgba(0,0,0,0)", barmode="overlay",
                  annotations=annotations, shapes=shapes, font=dict(family=SANS), **layout)

fig.write_html("out.html", config=dict(displayModeBar=False),
               post_script="document.body.style.margin='0';document.documentElement.style.overflow='hidden';")
